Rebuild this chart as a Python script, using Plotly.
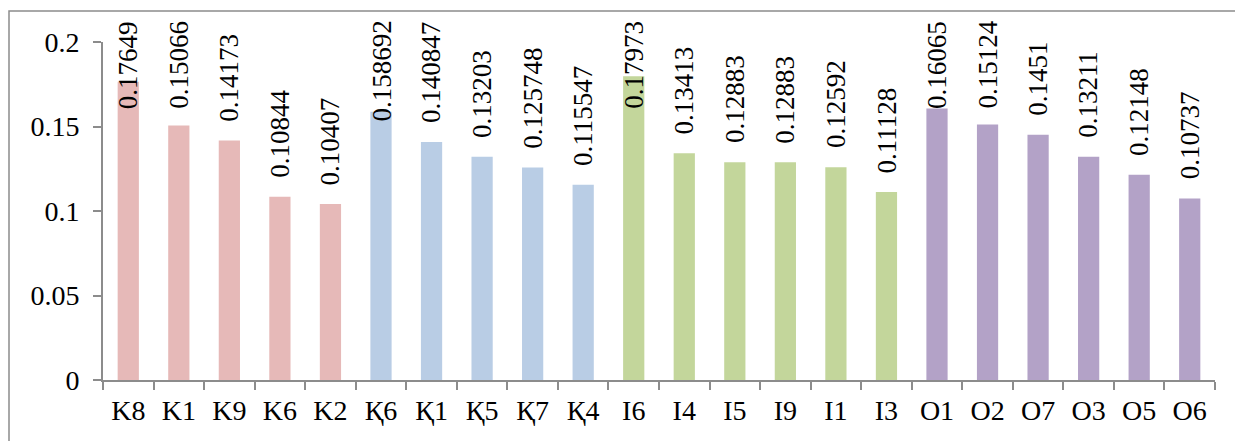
import plotly.graph_objects as go

# ---- data ----
k_cats = ["K8", "K1", "K9", "K6", "K2"]
k_vals = [0.17649, 0.15066, 0.14173, 0.10844, 0.10407]
k_text = ["0.17649", "0.15066", "0.14173", "0.10844", "0.10407"]

q_cats = ["Қ6", "Қ1", "Қ5", "Қ7", "Қ4"]
q_vals = [0.158692, 0.140847, 0.13203, 0.125748, 0.115547]
q_text = ["0.158692", "0.140847", "0.13203", "0.125748", "0.115547"]

i_cats = ["I6", "I4", "I5", "I9", "I1", "I3"]
i_vals = [0.17973, 0.13413, 0.12883, 0.12883, 0.12592, 0.11128]
i_text = ["0.17973", "0.13413", "0.12883", "0.12883", "0.12592", "0.11128"]

o_cats = ["O1", "O2", "O7", "O3", "O5", "O6"]
o_vals = [0.16065, 0.15124, 0.1451, 0.13211, 0.12148, 0.10737]
o_text = ["0.16065", "0.15124", "0.1451", "0.13211", "0.12148", "0.10737"]

y_ticks = [0, 0.05, 0.1, 0.15, 0.2]
y_ticktext = ["0", "0.05", "0.1", "0.15", "0.2"]
Y_MAX = 0.2

# ---- style ----
W, H = 1235, 441
ML, MR, MT, MB = 103, 20, 42, 61
FONT = "Liberation Serif, Times New Roman, serif"
FS_TICK = 28
FS_LAB = 27
AXIS_COL = "#8c8c8c"
groups = [
    (k_cats, k_vals, k_text, "#E6B9B8"),
    (q_cats, q_vals, q_text, "#B9CDE5"),
    (i_cats, i_vals, i_text, "#C3D69B"),
    (o_cats, o_vals, o_text, "#B3A2C7"),
]

plot_h = H - MT - MB
px_per_unit = plot_h / Y_MAX
label_gap = 18 / px_per_unit
top_limit = Y_MAX + (MT - 20) / px_per_unit

fig = go.Figure()
annotations = []
for cats, vals, texts, col in groups:
    fig.add_trace(go.Bar(x=cats, y=vals, marker=dict(color=col, line=dict(width=0)),
                         showlegend=False, hoverinfo="x+y"))
    for c, v, t in zip(cats, vals, texts):
        n_dig = sum(ch.isdigit() for ch in t)
        text_len = (n_dig * 0.5 + 0.25) * FS_LAB / px_per_unit
        base = v + label_gap
        if base + text_len > top_limit:
            ya, yv = "top", top_limit
        else:
            ya, yv = "bottom", base
        annotations.append(dict(x=c, xref="x", y=yv / Y_MAX, yref="paper", yanchor=ya,
                                text=t, textangle=-90, showarrow=False, borderpad=0,
                                font=dict(family=FONT, size=FS_LAB, color="black")))

plot_w = W - ML - MR
frame = dict(type="rect", xref="paper", yref="paper",
             x0=(9 - ML) / plot_w, x1=(W + 10 - ML) / plot_w,
             y0=-(MB + 10) / plot_h, y1=(H - MB - 11) / plot_h,
             line=dict(color=AXIS_COL, width=1.5), layer="below")

fig.update_layout(
    width=W, height=H,
    margin=dict(l=ML, r=MR, t=MT, b=MB),
    paper_bgcolor="white", plot_bgcolor="white",
    barmode="overlay", bargap=0.58,
    font=dict(family=FONT, size=FS_TICK, color="black"),
    annotations=annotations,
    shapes=[frame],
    xaxis=dict(type="category", showline=True, linecolor=AXIS_COL, linewidth=2,
               ticks="outside", tickson="boundaries", ticklen=8, tickcolor=AXIS_COL, tickwidth=2,
               showgrid=False, ticklabelstandoff=4,
               tickfont=dict(family=FONT, size=FS_TICK, color="black")),
    yaxis=dict(range=[0, Y_MAX], tickvals=y_ticks, ticktext=y_ticktext, showline=True,
               linecolor=AXIS_COL, linewidth=2, ticks="outside", ticklen=8, tickcolor=AXIS_COL,
               tickwidth=2, showgrid=False, zeroline=False, ticklabelstandoff=8,
               tickfont=dict(family=FONT, size=FS_TICK, color="black")),
)

fig.write_html("out.html")
